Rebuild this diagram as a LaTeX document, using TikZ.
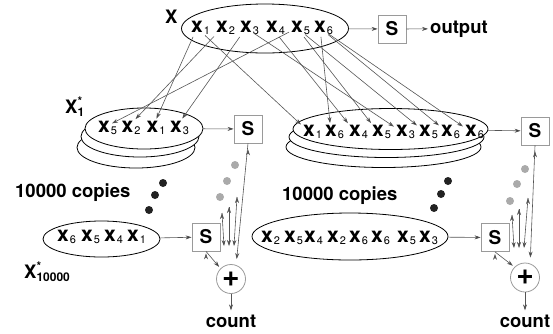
\documentclass[tikz,border=0pt]{standalone}
\usepackage{fontspec}
\setmainfont{TeX Gyre Heros}
\usetikzlibrary{shapes.geometric,arrows.meta}

\definecolor{linkgray}{HTML}{555555}
\definecolor{boxgray}{HTML}{9A9A9A}
\definecolor{dotgray}{HTML}{AAAAAA}
\definecolor{dotdark}{HTML}{222222}

\newcommand{\labfont}{\fontsize{18.5}{20}\selectfont\bfseries}
\newcommand{\subfont}{\fontsize{11}{11}\selectfont\mdseries}
\newcommand{\supfont}{\fontsize{12}{12}\selectfont\bfseries}
\newcommand{\xs}[1]{x\rlap{\kern1pt\raisebox{-2pt}{\subfont #1}}}

\tikzset{
  >={Stealth[length=6pt,width=4pt]},
  set/.style={ellipse,draw,line width=0.8pt,fill=white,inner sep=0pt},
  letter/.style={inner sep=2pt,font=\fontsize{21}{21}\selectfont\bfseries},
  sbox/.style={draw=boxgray,line width=0.8pt,minimum size=28pt,inner sep=0pt,font=\fontsize{19}{19}\selectfont\bfseries},
  plus/.style={circle,draw=boxgray,line width=0.8pt,minimum size=29pt,inner sep=0pt,font=\fontsize{30}{30}\selectfont\bfseries},
  lab/.style={font=\labfont,inner sep=2pt},
  link/.style={->,draw=linkgray,line width=0.6pt}
}

\begin{document}
\begin{tikzpicture}[x=1pt,y=-1pt]
  \useasboundingbox (0,0) rectangle (553,333);

  % the sets
  \node[set,minimum width=167pt,minimum height=49pt] (X)    at (265,28.5)   {};

  \node[set,minimum width=118pt,minimum height=41pt] (L-c)  at (136,147.5)  {};
  \node[set,minimum width=118pt,minimum height=41pt] (L-b)  at (140,136.5)  {};
  \node[set,minimum width=118pt,minimum height=41pt] (L)    at (144,128.5)  {};

  \node[set,minimum width=195pt,minimum height=41pt] (R-c)  at (383.5,147)  {};
  \node[set,minimum width=195pt,minimum height=41pt] (R-b)  at (386.5,137)  {};
  \node[set,minimum width=195pt,minimum height=41pt] (R)    at (390.5,129)  {};

  \node[set,minimum width=117pt,minimum height=36pt] (LL)   at (101.5,239)  {};
  \node[set,minimum width=196pt,minimum height=47pt] (RR)   at (350,236.5)  {};

  % the elements
  \begin{scope}[every node/.style={letter}]
  \node (X-1) at (197,28) {\xs{1}};
  \node (X-2) at (222,28) {\xs{2}};
  \node (X-3) at (246,28) {\xs{3}};
  \node (X-4) at (272,28) {\xs{4}};
  \node (X-5) at (297,28) {\xs{5}};
  \node (X-6) at (320,28) {\xs{6}};

  \node (L-1) at (104,127.5)   {\xs{5}};
  \node (L-2) at (127.5,127.5) {\xs{2}};
  \node (L-3) at (152.5,127.5) {\xs{1}};
  \node (L-4) at (176,127.5)   {\xs{3}};

  \node (R-1) at (309,132) {\xs{1}};
  \node (R-2) at (331,132) {\xs{6}};
  \node (R-3) at (355,132) {\xs{4}};
  \node (R-4) at (378,132) {\xs{5}};
  \node (R-5) at (402,132) {\xs{3}};
  \node (R-6) at (425,132) {\xs{5}};
  \node (R-7) at (447,132) {\xs{6}};
  \node (R-8) at (471,132) {\xs{6}};

  \node (LL-1) at (63,237)  {\xs{6}};
  \node (LL-2) at (87,237)  {\xs{5}};
  \node (LL-3) at (110,237) {\xs{4}};
  \node (LL-4) at (133,237) {\xs{1}};

  \node (RR-1) at (267,237.5) {\xs{2}};
  \node (RR-2) at (290,237.5) {\xs{5}};
  \node (RR-3) at (310,237.5) {\xs{4}};
  \node (RR-4) at (333,237.5) {\xs{2}};
  \node (RR-5) at (355,237.5) {\xs{6}};
  \node (RR-6) at (377,237.5) {\xs{6}};
  \node (RR-7) at (403,237.5) {\xs{5}};
  \node (RR-8) at (425,237.5) {\xs{3}};
  \end{scope}

  % labels
  \node[lab,anchor=base west] (Xlab)   at (163,23)  {X};
  \node[lab,anchor=base west] (X1lab)  at (63,113)  {X\rlap{\raisebox{8pt}{\supfont *}}\raisebox{-3pt}{\supfont 1}};
  \node[lab,anchor=base west] (X2lab)  at (22,278)  {X\rlap{\raisebox{8pt}{\supfont *}}\raisebox{-3pt}{\supfont 10000}};
  \node[lab,anchor=base west] (copL)   at (13,197)  {10000 copies};
  \node[lab,anchor=base west] (copR)   at (280,200) {10000 copies};
  \node[lab,anchor=base west] (out)    at (428,33)  {output};
  \node[lab,anchor=base,inner sep=4pt] (countL) at (231,327) {count};
  \node[lab,anchor=base,inner sep=4pt] (countR) at (525,327) {count};

  % sums
  \node[sbox] (sX)  at (392,29)    {S};
  \node[sbox] (sL)  at (248,129)   {S};
  \node[sbox] (sR)  at (535,131)   {S};
  \node[sbox] (sLL) at (206,237)   {S};
  \node[sbox] (sRR) at (495,237.5) {S};

  \node[plus] (pL) at (231,279)   {+};
  \node[plus] (pR) at (525,277.5) {+};

  % dots
  \fill[dotdark] (163,183) circle (4pt);
  \fill[dotdark] (155,195) circle (4pt);
  \fill[dotdark] (149,210) circle (4pt);
  \fill[dotdark] (448,181) circle (4pt);
  \fill[dotdark] (441,194) circle (4pt);
  \fill[dotdark] (434,208) circle (4pt);

  \fill[dotgray] (235,165) circle (4pt);
  \fill[dotgray] (227,181) circle (4pt);
  \fill[dotgray] (220,197) circle (4pt);
  \fill[dotgray] (525,169) circle (4pt);
  \fill[dotgray] (517,184) circle (4pt);
  \fill[dotgray] (510,201) circle (4pt);

  % sampling
  \path [link] (X-5) edge (L-1);
  \path [link] (X-2) edge (L-2);
  \path [link] (X-1) edge (L-3);
  \path [link] (X-3) edge (L-4);

  \path [link] (X-1) edge (R-1);
  \path [link] (X-6) edge (R-2);
  \path [link] (X-4) edge (R-3);
  \path [link] (X-5) edge (R-4);
  \path [link] (X-3) edge (R-5);
  \path [link] (X-5) edge (R-6);
  \path [link] (X-6) edge (R-7);
  \path [link] (X-6) edge (R-8);

  % statistics
  \path [link] (X) edge (sX);
  \path [link] (sX) edge (out);
  \path [link] (L) edge (sL);
  \path [link] (R) edge (sR);
  \path [link] (LL) edge (sLL);
  \path [link] (RR) edge (sRR);

  % counting
  \coordinate (inL-1) at (222,213);
  \coordinate (inL-2) at (229,207);
  \coordinate (inL-3) at (237,197);
  \coordinate (endL-1) at (224,246);
  \coordinate (endL-2) at (229,246);
  \coordinate (endL-3) at (234,246);
  \coordinate (inR-1) at (512,215);
  \coordinate (inR-2) at (519,209);
  \coordinate (inR-3) at (528,198);
  \coordinate (endR-1) at (514,248);
  \coordinate (endR-2) at (519,248);
  \coordinate (endR-3) at (524,248);

  \path [link] (inL-1) edge (endL-1);
  \path [link] (inL-2) edge (endL-2);
  \path [link] (inL-3) edge (endL-3);
  \path [link] (inR-1) edge (endR-1);
  \path [link] (inR-2) edge (endR-2);
  \path [link] (inR-3) edge (endR-3);

  \path [link,shorten >=6pt] (sL.south) edge (pL.70);
  \path [link,shorten >=6pt] (sR.south) edge (pR.70);
  \path [link,shorten >=2pt] (sLL.south) edge (pL.north west);
  \path [link,shorten >=2pt] (sRR.south) edge (pR.north west);

  \path [link] (pL) edge (countL);
  \path [link] (pR) edge (countR);
\end{tikzpicture}
\end{document}
